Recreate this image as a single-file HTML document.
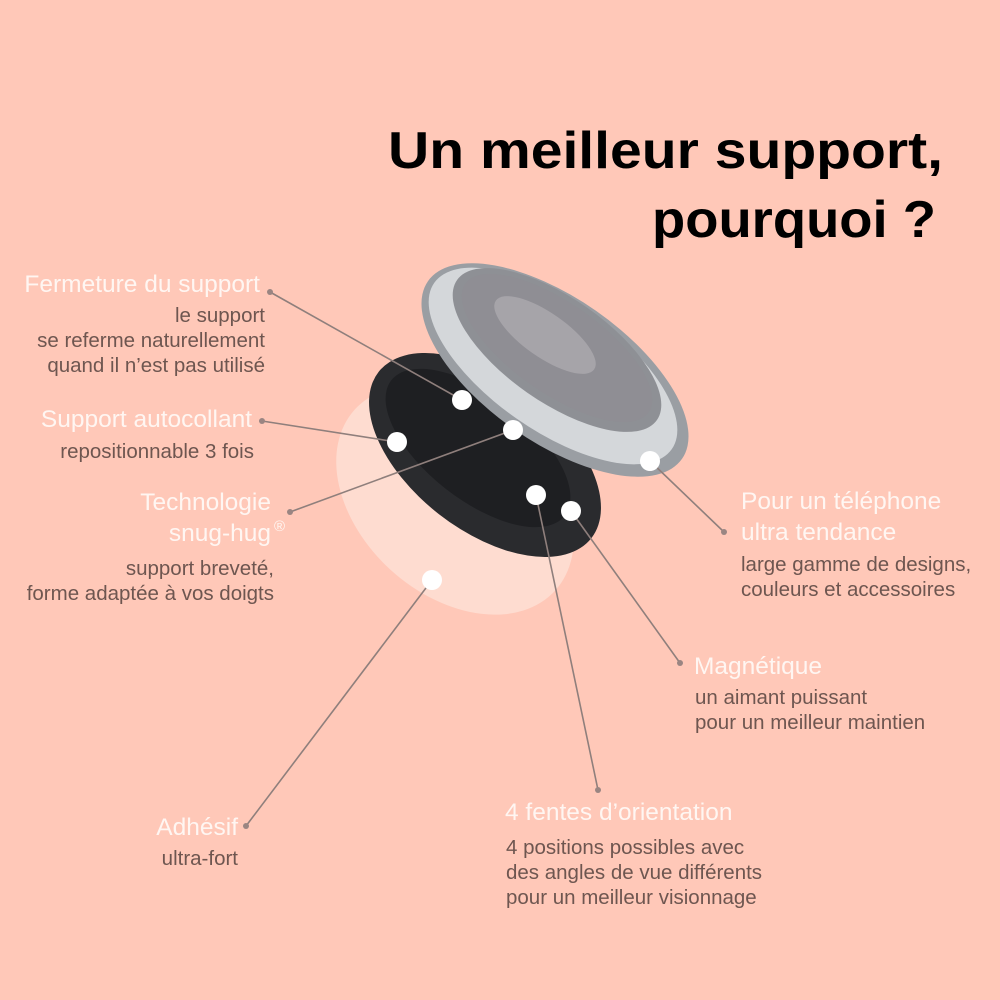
<!DOCTYPE html>
<html><head><meta charset="utf-8"><style>
html,body{margin:0;padding:0;background:#FFC8B8;}
svg{display:block}
.h{font-family:"Liberation Sans",sans-serif;fill:#FFF6F2;font-size:24.5px}
.d{font-family:"Liberation Sans",sans-serif;fill:#6E5650;font-size:20.5px}
.t{font-family:"Liberation Sans",sans-serif;font-weight:bold;fill:#000;font-size:52px}
</style></head><body>
<svg width="1000" height="1000" viewBox="0 0 1000 1000" xmlns="http://www.w3.org/2000/svg">
<rect width="1000" height="1000" fill="#FFC8B8"/>
<text class="t" x="943" y="168" text-anchor="end" textLength="555" lengthAdjust="spacingAndGlyphs">Un meilleur support,</text>
<text class="t" x="936" y="237" text-anchor="end" textLength="284" lengthAdjust="spacingAndGlyphs">pourquoi ?</text>

<ellipse cx="455" cy="500" rx="135" ry="95" transform="rotate(42 455 500)" fill="#FEDCD0"/>
<ellipse cx="485" cy="455" rx="135" ry="75" transform="rotate(38 485 455)" fill="#2A2B2E"/>
<ellipse cx="478" cy="448" rx="110" ry="52" transform="rotate(38 478 448)" fill="#1E1F22"/>
<ellipse cx="555" cy="370" rx="155" ry="72" transform="rotate(35 555 370)" fill="#9A9EA3"/>
<ellipse cx="553" cy="366" rx="145" ry="64" transform="rotate(35 553 366)" fill="#D4D7DA"/>
<ellipse cx="557" cy="350" rx="122" ry="52" transform="rotate(35 557 350)" fill="#8E9095"/>
<ellipse cx="557" cy="348" rx="112" ry="45" transform="rotate(35 557 348)" fill="#8F8E94"/>
<ellipse cx="545" cy="335" rx="60" ry="22" transform="rotate(35 545 335)" fill="#B5B2B8" opacity="0.6"/>

<g stroke="#8F7F7C" stroke-width="1.6" fill="none">
<line x1="270" y1="292" x2="462" y2="400"/>
<line x1="262" y1="421" x2="397" y2="442"/>
<line x1="290" y1="512" x2="513" y2="430"/>
<line x1="724" y1="532" x2="650" y2="461"/>
<line x1="680" y1="663" x2="571" y2="511"/>
<line x1="598" y1="790" x2="536" y2="495"/>
<line x1="246" y1="826" x2="432" y2="580"/>
</g>
<g fill="#9A8582">
<circle cx="270" cy="292" r="3"/><circle cx="262" cy="421" r="3"/><circle cx="290" cy="512" r="3"/>
<circle cx="724" cy="532" r="3"/><circle cx="680" cy="663" r="3"/><circle cx="598" cy="790" r="3"/><circle cx="246" cy="826" r="3"/>
</g>
<g fill="#fff">
<circle cx="462" cy="400" r="10"/><circle cx="397" cy="442" r="10"/><circle cx="513" cy="430" r="10"/>
<circle cx="650" cy="461" r="10"/><circle cx="571" cy="511" r="10"/><circle cx="536" cy="495" r="10"/><circle cx="432" cy="580" r="10"/>
</g>

<text class="h" x="260" y="292" text-anchor="end">Fermeture du support</text>
<text class="d" x="265" y="322" text-anchor="end">le support</text>
<text class="d" x="265" y="347" text-anchor="end">se referme naturellement</text>
<text class="d" x="265" y="372" text-anchor="end">quand il n’est pas utilisé</text>

<text class="h" x="252" y="427" text-anchor="end">Support autocollant</text>
<text class="d" x="254" y="458" text-anchor="end">repositionnable 3 fois</text>

<text class="h" x="271" y="510" text-anchor="end">Technologie</text>
<text class="h" x="271" y="541" text-anchor="end">snug-hug</text>
<text class="h" x="274" y="531" style="font-size:15px">®</text>
<text class="d" x="274" y="575" text-anchor="end">support breveté,</text>
<text class="d" x="274" y="600" text-anchor="end">forme adaptée à vos doigts</text>

<text class="h" x="741" y="509">Pour un téléphone</text>
<text class="h" x="741" y="540">ultra tendance</text>
<text class="d" x="741" y="571">large gamme de designs,</text>
<text class="d" x="741" y="596">couleurs et accessoires</text>

<text class="h" x="694" y="674">Magnétique</text>
<text class="d" x="695" y="704">un aimant puissant</text>
<text class="d" x="695" y="729">pour un meilleur maintien</text>

<text class="h" x="505" y="820">4 fentes d’orientation</text>
<text class="d" x="506" y="854">4 positions possibles avec</text>
<text class="d" x="506" y="879">des angles de vue différents</text>
<text class="d" x="506" y="904">pour un meilleur visionnage</text>

<text class="h" x="238" y="835" text-anchor="end">Adhésif</text>
<text class="d" x="238" y="865" text-anchor="end">ultra-fort</text>
</svg>
</body></html>
